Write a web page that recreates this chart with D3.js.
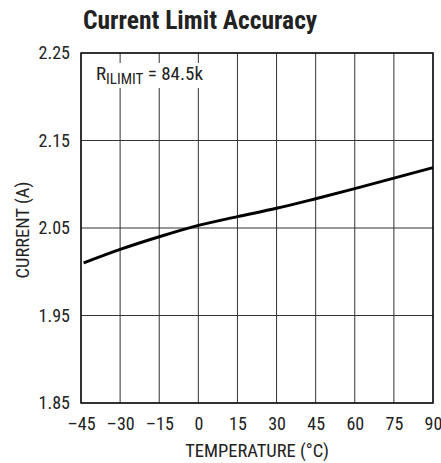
<!DOCTYPE html>
<html>
<head>
<meta charset="utf-8">
<script src="https://cdn.jsdelivr.net/npm/d3@7"></script>
<style>
  body { margin: 0; background: #fff; }
  text { font-family: "Liberation Sans Narrow", "Roboto Condensed", "Liberation Sans", sans-serif; fill: #222; }
</style>
</head>
<body>
<script>
const temps = [-44, -30, -15, 0, 15, 30, 45, 60, 75, 90];
const current = [2.010, 2.0255, 2.040, 2.053, 2.063, 2.0725, 2.0835, 2.095, 2.107, 2.119];
const xTicks = [-45, -30, -15, 0, 15, 30, 45, 60, 75, 90];
const yTicks = [1.85, 1.95, 2.05, 2.15, 2.25];

const margin = { top: 53, right: 8, bottom: 60, left: 81 };
const width = 441 - margin.left - margin.right;
const height = 463 - margin.top - margin.bottom;

const x = d3.scaleLinear().domain([-45, 90]).range([0, width]);
const y = d3.scaleLinear().domain([1.85, 2.25]).range([height, 0]);

const svg = d3.select('body')
  .append('svg')
  .attr('width', 441)
  .attr('height', 463);

svg.append('text')
  .attr('x', 83)
  .attr('y', 29)
  .style('font-size', '25.5px')
  .style('font-weight', 'bold')
  .text('Current Limit Accuracy');

const g = svg.append('g')
  .attr('transform', `translate(${margin.left},${margin.top})`);

// grid
g.selectAll('.vgrid')
  .data(xTicks)
  .enter().append('line')
  .attr('x1', d => x(d)).attr('x2', d => x(d))
  .attr('y1', 0).attr('y2', height)
  .attr('stroke', '#333').attr('stroke-width', 1);

g.selectAll('.hgrid')
  .data(yTicks)
  .enter().append('line')
  .attr('x1', 0).attr('x2', width)
  .attr('y1', d => y(d)).attr('y2', d => y(d))
  .attr('stroke', '#333').attr('stroke-width', 1);

// label box over grid
g.append('rect')
  .attr('x', 5).attr('y', 10)
  .attr('width', 128).attr('height', 25)
  .attr('fill', '#fff');

const lbl = g.append('text')
  .attr('x', 15)
  .attr('y', 27)
  .style('font-size', '19px');
lbl.append('tspan').text('R');
lbl.append('tspan').attr('dy', 4).style('font-size', '15px').text('ILIMIT');
lbl.append('tspan').attr('dy', -4).text(' = 84.5k');

g.append('rect')
  .attr('width', width).attr('height', height)
  .attr('fill', 'none')
  .attr('stroke', '#111').attr('stroke-width', 1.5);

const line = d3.line()
  .x((d, i) => x(temps[i]))
  .y(d => y(d))
  .curve(d3.curveMonotoneX);

g.append('path')
  .datum(current)
  .attr('d', line)
  .attr('fill', 'none')
  .attr('stroke', '#000')
  .attr('stroke-width', 3);

// axes
const xAxis = g.append('g')
  .attr('transform', `translate(0,${height})`)
  .call(d3.axisBottom(x).tickValues(xTicks).tickSize(0).tickPadding(14)
    .tickFormat(d => d < 0 ? '\u2013' + Math.abs(d) : d));
xAxis.select('.domain').remove();
xAxis.selectAll('text').style('font-size', '18px').attr('fill', '#222');

const yAxis = g.append('g')
  .call(d3.axisLeft(y).tickValues(yTicks).tickSize(0).tickPadding(11)
    .tickFormat(d3.format('.2f')));
yAxis.select('.domain').remove();
yAxis.selectAll('text').style('font-size', '18px').attr('fill', '#222');

svg.append('text')
  .attr('x', 257)
  .attr('y', 457)
  .attr('text-anchor', 'middle')
  .style('font-size', '18.5px')
  .text('TEMPERATURE (\u00B0C)');

svg.append('text')
  .attr('transform', 'translate(29,230) rotate(-90)')
  .attr('text-anchor', 'middle')
  .style('font-size', '18.5px')
  .text('CURRENT (A)');
</script>
</body>
</html>
